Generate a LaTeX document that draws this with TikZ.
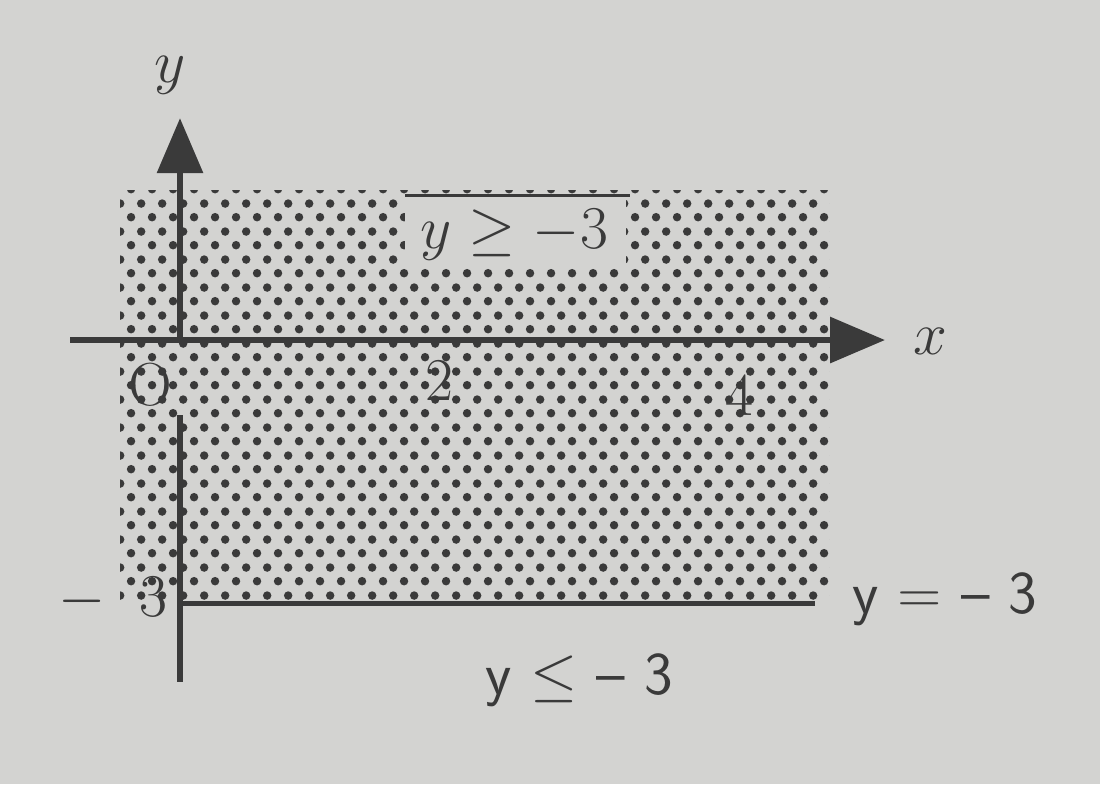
\documentclass[tikz,border=0pt]{standalone}
\usepackage{amsmath}
\usepackage{amssymb}
\usepackage{tikz}
\usetikzlibrary{arrows.meta, patterns.meta}

\definecolor{paper}{HTML}{D3D3D1}
\definecolor{ink}{HTML}{3A3A3A}

\tikzdeclarepattern{
  name=halftone,
  type=uncolored,
  bottom left={(0pt,0pt)},
  top right={(6pt,8pt)},
  tile size={(6pt,8pt)},
  code={
    \fill (1.5pt,2pt) circle (1.25pt);
    \fill (4.5pt,6pt) circle (1.25pt);
  }
}

\begin{document}
\begin{tikzpicture}[x=1.5cm, y=0.877cm, line width=1.8pt]
        % Paper
        \fill[paper] (-1.2,-5.063) rectangle (6.133,3.877);
        \useasboundingbox (-1.2,-5.063) rectangle (6.133,3.877);

        % Region y >= -3
        \fill[pattern=halftone, pattern color=ink] (-0.4,-3) rectangle (4.33,1.71);
        % Clear box for the label
        \fill[paper] (1.5,0.855) rectangle (2.97,1.65);
        \draw[ink, line width=1pt] (1.5,1.65) -- (3.0,1.65);
        \node[ink] (ge) at (2.23,1.2) {\LARGE $y \geq -3$};

        % Axes
        \draw[ink, -{Triangle[length=0.55cm, width=0.45cm]}] (-0.733,0) -- (4.7,0);
        \draw[ink, -{Triangle[length=0.55cm, width=0.45cm]}] (0,0) -- (0,2.53);
        \draw[ink] (0,-0.855) -- (0,-3.9);
        \node[ink] (xlab) at (5.0,-0.02) {\LARGE $x$};
        \node[ink] (ylab) at (-0.067,3.02) {\LARGE $y$};
        \node[ink] (orig) at (-0.2,-0.51) {\LARGE O};
        \node[ink] (two) at (1.73,-0.46) {\LARGE 2};
        \node[ink] (four) at (3.73,-0.63) {\LARGE 4};

        % Boundary line y = -3
        \draw[ink, line width=1.4pt] (0,-3) -- (4.23,-3);
        \node[ink] (mthree) at (-0.45,-2.96) {\LARGE $-\;\;3$};
        \node[ink] (eq) at (5.1,-2.96) {\LARGE\sffamily y = -- 3};
        \node[ink] (le) at (2.66,-3.88) {\LARGE\sffamily y $\leq$ -- 3};
    \end{tikzpicture}
\end{document}
